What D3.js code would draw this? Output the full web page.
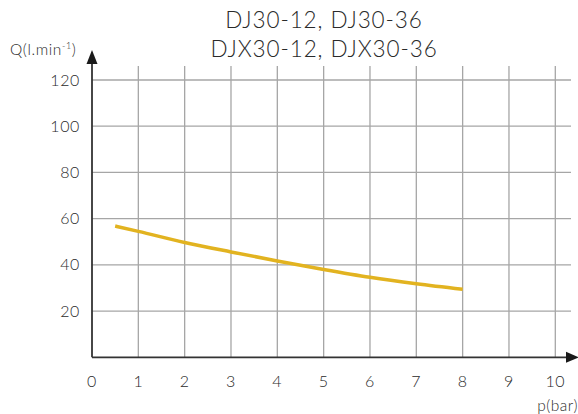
<!DOCTYPE html>
<html><head><meta charset="utf-8">
<script src="https://cdn.jsdelivr.net/npm/d3@7"></script>
<style>body{margin:0;background:#fff}svg{display:block}text{font-family:"Lato","DejaVu Sans",sans-serif;font-weight:300;fill:#2a2a2a}</style>
</head><body><svg id="c" width="578" height="414"></svg>
<script>
const titleLines = ["DJ30-12, DJ30-36", "DJX30-12, DJX30-36"];
const xTicks = [0,1,2,3,4,5,6,7,8,9,10];
const yTicks = [20,40,60,80,100,120];
const pressure = [0.5,1,2,3,4,5,6,7,8];
const flow = [56.8,54.5,49.7,45.6,41.7,38.0,34.6,31.8,29.4];
const xLabel = "p(bar)";

const svg = d3.select("#c");
const x = d3.scaleLinear().domain([0,10]).range([92,555.3]);
const y = d3.scaleLinear().domain([0,120]).range([357.3,80]);

// gridlines
svg.append("g").selectAll("line").data(xTicks.slice(1)).join("line")
  .attr("x1",d=>x(d)).attr("x2",d=>x(d)).attr("y1",66).attr("y2",y(0))
  .attr("stroke","#a6a6a6").attr("stroke-width",1.3);
svg.append("g").selectAll("line").data(yTicks).join("line")
  .attr("x1",x(0)).attr("x2",571).attr("y1",d=>y(d)).attr("y2",d=>y(d))
  .attr("stroke","#a6a6a6").attr("stroke-width",1.3);

// axes lines
svg.append("line").attr("x1",x(0)).attr("x2",569).attr("y1",y(0)).attr("y2",y(0)).attr("stroke","#333").attr("stroke-width",1.8);
svg.append("line").attr("x1",x(0)).attr("x2",x(0)).attr("y1",y(0)).attr("y2",62).attr("stroke","#333").attr("stroke-width",1.8);
svg.append("path").attr("d",`M${x(0)-5.5},64 L${x(0)},50 L${x(0)+5.5},64 Z`).attr("fill","#1a1a1a");
svg.append("path").attr("d",`M566,${y(0)-5.5} L579,${y(0)} L566,${y(0)+5.5} Z`).attr("fill","#1a1a1a");

// tick labels
svg.append("g").selectAll("text").data(xTicks).join("text")
  .attr("x",d=>x(d)).attr("y",387).attr("text-anchor","middle").attr("font-size",16).attr("letter-spacing",0.6).text(d=>d);
svg.append("g").selectAll("text").data(yTicks).join("text")
  .attr("x",80).attr("y",d=>y(d)+5.5).attr("text-anchor","end").attr("font-size",16).attr("letter-spacing",0.6).text(d=>d);

// axis titles
const q = svg.append("text").attr("x",10).attr("y",55).attr("font-size",15.5).attr("letter-spacing",0.6);
q.append("tspan").text("Q(l.min");
q.append("tspan").attr("font-size",9).attr("dy",-6).text("-1");
q.append("tspan").attr("dy",6).text(")");
svg.append("text").attr("x",578).attr("y",411).attr("text-anchor","end").attr("font-size",15.5).attr("letter-spacing",0.5).text(xLabel);

// title
svg.append("g").selectAll("text").data(titleLines).join("text")
  .attr("x",324).attr("y",(d,i)=>28+i*29).attr("text-anchor","middle").attr("font-size",22.5).attr("letter-spacing",0.9).text(d=>d);

// curve
const line = d3.line().x((d,i)=>x(pressure[i])).y(d=>y(d)).curve(d3.curveMonotoneX);
svg.append("path").attr("d",line(flow)).attr("fill","none").attr("stroke","#e2b320").attr("stroke-width",3.5);
</script></body></html>
